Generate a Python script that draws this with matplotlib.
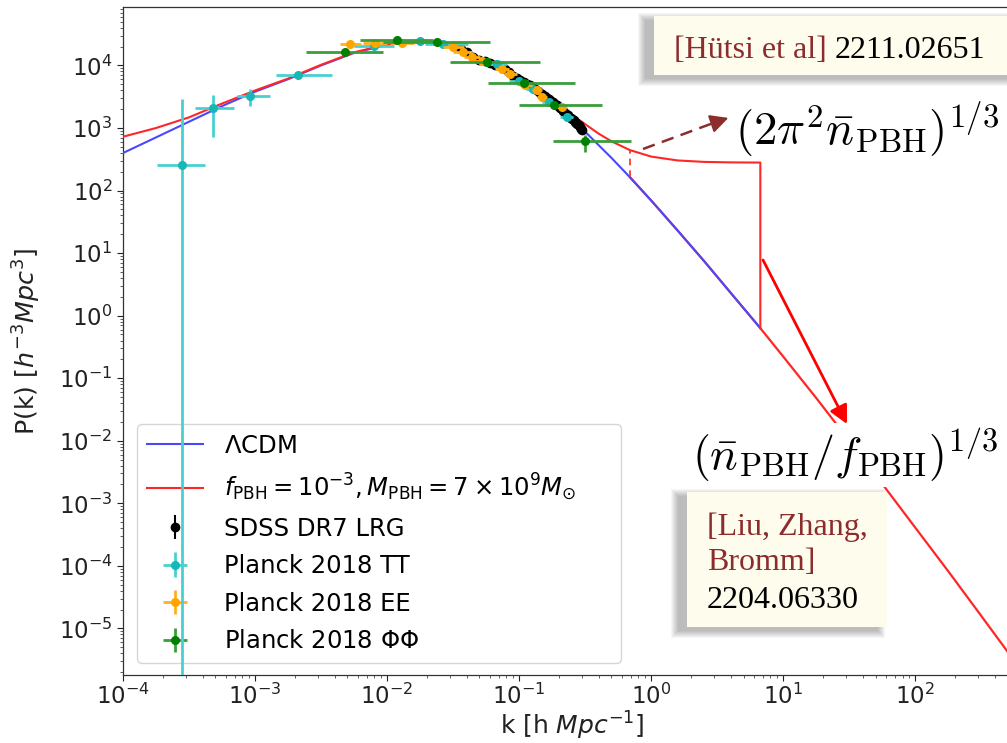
import matplotlib
matplotlib.use("Agg")
import matplotlib.pyplot as plt
from matplotlib.patches import Rectangle, FancyArrowPatch
from matplotlib.lines import Line2D
from matplotlib.ticker import LogLocator, NullFormatter, FixedLocator

# ---------------- curves ----------------
# Linear LCDM matter power spectrum, P(k) in (Mpc/h)^3
k_lcdm = [1e-4, 1.78e-4, 3.16e-4, 5.62e-4, 1e-3, 1.78e-3, 3.16e-3, 5.62e-3,
          0.01, 0.0141, 0.0178, 0.0251, 0.0316, 0.0398, 0.0501, 0.0631,
          0.0794, 0.1, 0.126, 0.158, 0.2, 0.251, 0.316, 0.398, 0.501,
          0.692, 1.0, 1.58, 2.51, 3.98, 6.7]
P_lcdm = [398, 708, 1259, 2239, 3802, 6026, 10000, 15850,
          21380, 23990, 24830, 23440, 20420, 16220, 12590, 10470,
          8130, 6170, 4365, 3020, 2089, 1349, 871, 537, 331,
          162, 69.2, 23.1, 7.48, 2.34, 0.631]

# LCDM + PBH Poisson term, up to the cut-off scale
k_pbh = [1e-4, 1.78e-4, 3.16e-4, 5.62e-4, 1e-3, 1.78e-3, 3.16e-3, 5.62e-3,
         0.01, 0.0141, 0.0178, 0.0251, 0.0316, 0.0398, 0.0501, 0.0631,
         0.0794, 0.1, 0.126, 0.158, 0.2, 0.251, 0.316, 0.398, 0.501,
         0.692, 1.0, 1.58, 2.51, 3.98, 6.7, 6.7]
P_pbh = [725, 1000, 1479, 2455, 3981, 6166, 10230, 16220,
         21630, 24270, 25120, 23710, 20650, 16600, 12880, 10720,
         8320, 6446, 4645, 3300, 2369, 1629, 1151, 817, 611,
         442, 349, 303, 287, 282, 280, 0.631]

# PBH model beyond the separation scale (follows LCDM)
k_tail = [0.692, 1.0, 1.58, 2.51, 3.98, 6.7, 10.0, 17.8, 31.6, 56.2,
          100, 178, 316, 562, 794]
P_tail = [162, 69.2, 23.1, 7.48, 2.34, 0.631, 0.221, 0.0479, 0.0100,
          2.04e-3, 4.07e-4, 8.13e-5, 1.58e-5, 3.02e-6, 1.12e-6]

# mean PBH separation scale
k_sep = 0.692
P_sep_lo, P_sep_hi = 162, 442

# ---------------- data ----------------
k_sdss = [0.032, 0.036, 0.040, 0.045, 0.050, 0.055, 0.060, 0.066, 0.072,
          0.078, 0.084, 0.090, 0.096, 0.102, 0.108, 0.114, 0.120, 0.126,
          0.132, 0.138, 0.144, 0.150, 0.156, 0.162, 0.168, 0.174, 0.180,
          0.186, 0.192, 0.198, 0.204, 0.210, 0.216, 0.222, 0.228, 0.234,
          0.240, 0.246, 0.252, 0.258, 0.264, 0.270, 0.276, 0.282, 0.288,
          0.294, 0.300]
P_sdss = [20400, 18200, 16600, 13800, 12300, 11700, 11000, 10200, 9800,
          8700, 7800, 6900, 6300, 5900, 5400, 5000, 4800, 4550,
          4250, 3950, 3650, 3450, 3250, 3070, 2880, 2700, 2570,
          2450, 2350, 2220, 2100, 1990, 1870, 1760, 1650, 1590,
          1520, 1450, 1390, 1330, 1260, 1200, 1150, 1100, 1030,
          980, 930]
dP_sdss = [1200, 1100, 1000, 850, 750, 700, 650, 600, 580,
           520, 470, 420, 380, 350, 320, 300, 290, 270,
           260, 240, 220, 210, 200, 190, 180, 170, 160,
           150, 145, 140, 130, 125, 120, 115, 110, 105,
           100, 95, 92, 90, 86, 82, 80, 77, 74,
           72, 70]

k_tt = [2.79e-4, 4.83e-4, 9.16e-4, 2.13e-3, 7.94e-3, 0.0178, 0.0267,
        0.0676, 0.0989, 0.128, 0.167, 0.229]
k_tt_lo = [1.82e-4, 3.51e-4, 7.35e-4, 1.45e-3, 5.62e-3, 0.0135, 0.0195,
           0.0562, 0.0841, 0.112, 0.149, 0.204]
k_tt_hi = [4.19e-4, 6.93e-4, 1.30e-3, 3.85e-3, 0.0112, 0.0234, 0.0407,
           0.0813, 0.116, 0.147, 0.187, 0.257]
P_tt = [257, 2061, 3236, 7015, 20400, 24500, 21900, 10500, 5620, 4270,
        2630, 1510]
P_tt_lo = [0, 708, 2239, 6600, 19600, 23500, 21000, 10000, 5350, 4070,
           2500, 1430]
P_tt_hi = [2950, 3390, 4270, 7450, 21200, 25500, 22800, 11000, 5900, 4480,
           2760, 1590]

k_ee = [5.25e-3, 8.13e-3, 0.0129, 0.0318, 0.0374, 0.0437, 0.0521, 0.0741,
        0.0855, 0.111, 0.136, 0.149, 0.210]
k_ee_lo = [4.37e-3, 6.61e-3, 0.0105, 0.0265, 0.0318, 0.0381, 0.0454,
           0.0660, 0.0762, 0.0989, 0.124, 0.136, 0.192]
k_ee_hi = [6.31e-3, 0.0100, 0.0159, 0.0382, 0.0439, 0.0502, 0.0598,
           0.0831, 0.0959, 0.125, 0.149, 0.163, 0.230]
P_ee = [21900, 22900, 22900, 19950, 16600, 13800, 11900, 8910, 7410,
        4900, 4070, 3160, 2140]
P_ee_lo = [21000, 22000, 22000, 19150, 15900, 13250, 11400, 8550, 7110,
           4700, 3900, 3030, 2050]
P_ee_hi = [22800, 23800, 23800, 20750, 17300, 14350, 12400, 9270, 7710,
           5100, 4240, 3290, 2230]

k_pp = [4.81e-3, 0.0118, 0.0238, 0.0569, 0.108, 0.182, 0.316]
k_pp_lo = [2.45e-3, 6.24e-3, 9.33e-3, 0.0300, 0.0585, 0.100, 0.179]
k_pp_hi = [9.33e-3, 0.0224, 0.0603, 0.1445, 0.265, 0.427, 0.708]
P_pp = [16600, 25700, 24000, 11500, 5250, 2340, 617]
P_pp_lo = [16000, 24800, 23100, 11000, 5000, 2220, 417]
P_pp_hi = [17200, 26600, 24900, 12000, 5500, 2460, 776]

x_major = [1e-4, 1e-3, 1e-2, 1e-1, 1e0, 1e1, 1e2]
y_major = [1e-5, 1e-4, 1e-3, 1e-2, 1e-1, 1e0, 1e1, 1e2, 1e3, 1e4]


def asym(vals, lo, hi):
    return [[v - a for v, a in zip(vals, lo)], [b - v for v, b in zip(vals, hi)]]


W, H = 1007, 743
fig = plt.figure(figsize=(W / 100, H / 100), dpi=100)
ax = fig.add_axes([123 / W, 68 / H, 898 / W, 667.7 / H])
ax.set_xscale('log')
ax.set_yscale('log')

red = '#ff2626'
ax.plot(k_tail, P_tail, color=red, lw=1.6, zorder=2)
ax.plot(k_lcdm, P_lcdm, color='#4848ff', lw=1.5, zorder=3,
        label=r'$\Lambda$CDM')
ax.plot(k_pbh, P_pbh, color=red, lw=1.5, zorder=4,
        label=r'$f_{\rm PBH}=10^{-3}, M_{\rm PBH}=7\times10^{9}M_{\odot}$')
ax.vlines(k_sep, P_sep_lo, P_sep_hi, colors=red, linestyles=(0, (4, 3)),
          lw=1.2, zorder=4)

ax.errorbar(k_sdss, P_sdss, yerr=dP_sdss, fmt='o', color='black', ms=6,
            elinewidth=1.5, capsize=0, zorder=5, label='SDSS DR7 LRG')
ax.errorbar(k_tt, P_tt, xerr=asym(k_tt, k_tt_lo, k_tt_hi),
            yerr=asym(P_tt, P_tt_lo, P_tt_hi), fmt='o', color='#17b7b7',
            ecolor='#48d0d0', ms=5.5, elinewidth=2, capsize=0, zorder=6,
            label='Planck 2018 TT')
ax.errorbar(k_ee, P_ee, xerr=asym(k_ee, k_ee_lo, k_ee_hi),
            yerr=asym(P_ee, P_ee_lo, P_ee_hi), fmt='o', color='orange',
            ecolor='#ffb020', ms=5.5, elinewidth=2, capsize=0, zorder=7,
            label='Planck 2018 EE')
ax.errorbar(k_pp, P_pp, xerr=asym(k_pp, k_pp_lo, k_pp_hi),
            yerr=asym(P_pp, P_pp_lo, P_pp_hi), fmt='o', color='green',
            ecolor='#3a9d3a', ms=5.5, elinewidth=2, capsize=0, zorder=8,
            label=r'Planck 2018 $\Phi\Phi$')

ax.set_xlim(1e-4, 631)
ax.set_ylim(1.8e-6, 8.5e4)

ax.xaxis.set_major_locator(FixedLocator(x_major))
ax.yaxis.set_major_locator(FixedLocator(y_major))
for axis in (ax.xaxis, ax.yaxis):
    axis.set_minor_locator(LogLocator(base=10, subs=range(2, 10), numticks=300))
    axis.set_minor_formatter(NullFormatter())
ax.tick_params(which='major', labelsize=16.5, length=4, width=0.8, colors='#222222')
ax.tick_params(axis='x', which='major', pad=2.5)
ax.tick_params(which='minor', length=2, width=0.6, colors='#444444')
for s in ax.spines.values():
    s.set_color('#333333')
    s.set_linewidth(0.9)

xl = ax.set_xlabel(r'k [h $Mpc^{-1}$]', fontsize=17.5, color='#222222')
yl = ax.set_ylabel(r'P(k) $[h^{-3}Mpc^3]$', fontsize=12.5, color='#222222')


def fx(x):
    return x / W


def fy(y):
    return 1 - y / H


renderer = fig.canvas.get_renderer()


def fit_width(t, target, vertical=False):
    # scale the font so the text spans the given number of pixels
    for _ in range(3):
        bb = t.get_window_extent(renderer)
        size = bb.height if vertical else bb.width
        t.set_fontsize(t.get_fontsize() * target / size)


# axis labels: length along the axis, then placement
fit_width(xl, 144)
fit_width(yl, 187, vertical=True)
xl.set_va('bottom')
ax.xaxis.set_label_coords(0.5, (675 - 742.5) / 667.7)
ax.yaxis.set_label_coords(-0.089, 0.5)


def make_legend(spacing):
    lg = ax.legend(loc='lower left',
                   bbox_to_anchor=(14 / 898, 12 / 667.7, 484 / 898, 0.45),
                   mode='expand', borderaxespad=0, fontsize=17.5,
                   handlelength=2.3, labelspacing=spacing, handletextpad=0.9,
                   fancybox=True)
    lg.get_frame().set_edgecolor('#cccccc')
    return lg


spacing = 0.55
leg = make_legend(spacing)
for _ in range(2):
    fig.canvas.draw()
    h = leg.get_window_extent(renderer).height
    spacing += (239 - h) / (5 * 17.5 * 100 / 72)
    leg.remove()
    leg = make_legend(spacing)


# ---------------- annotations (figure pixel coordinates) ----------------
def note_box(x0, y0, x1, y1):
    for i in range(8):
        e = 7 - i
        fig.add_artist(Rectangle((fx(x0 - 9 - e), fy(y1 + 4 + e)),
                                 (x1 - x0 + 2 * e) / W, (y1 - y0 + 2 * e) / H,
                                 transform=fig.transFigure, facecolor='black',
                                 edgecolor='none', alpha=0.035, zorder=10))
    fig.add_artist(Rectangle((fx(x0), fy(y1)), (x1 - x0) / W, (y1 - y0) / H,
                             transform=fig.transFigure, facecolor='#fefcec',
                             edgecolor='none', zorder=11))


ref_red = '#8c2d2d'
serif = 'Liberation Serif'

note_box(654, 16, 1030, 75)
fig.text(fx(674), fy(58), '[Hütsi et al]', family=serif, fontsize=23,
         color=ref_red, va='baseline', zorder=12)
fig.text(fx(835), fy(58), '2211.02651', family=serif, fontsize=23,
         color='black', va='baseline', zorder=12)

note_box(687, 492, 887, 627)
fig.text(fx(707), fy(535), '[Liu, Zhang,', family=serif, fontsize=23,
         color=ref_red, va='baseline', zorder=12)
fig.text(fx(707), fy(570), 'Bromm]', family=serif, fontsize=23,
         color=ref_red, va='baseline', zorder=12)
fig.text(fx(707), fy(608), '2204.06330', family=serif, fontsize=23,
         color='black', va='baseline', zorder=12)

t1 = fig.text(fx(735), fy(99), r'$(2\pi^2\bar{n}_{\rm PBH})^{1/3}$',
              math_fontfamily='cm', fontsize=33, va='top', zorder=12)
t2 = fig.text(fx(692), fy(426), r'$(\bar{n}_{\rm PBH}/f_{\rm PBH})^{1/3}$',
              math_fontfamily='cm', fontsize=33, va='top', zorder=12,
              bbox=dict(facecolor='white', edgecolor='none', pad=2))
fit_width(t1, 264)
fit_width(t2, 306)

# dashed arrow towards the separation-scale label
fig.add_artist(Line2D([fx(643), fx(716)], [fy(149), fy(122)], color=ref_red,
                      lw=1.8, linestyle=(0, (5, 3)), zorder=12))
fig.add_artist(FancyArrowPatch((fx(712), fy(123.5)), (fx(731), fy(117)),
                               transform=fig.transFigure, color=ref_red,
                               arrowstyle='-|>,head_length=0.55,head_width=0.28',
                               mutation_scale=20, lw=1.5, zorder=12))
# solid arrow towards the cut-off label
fig.add_artist(FancyArrowPatch((fx(763), fy(260)), (fx(847), fy(424)),
                               transform=fig.transFigure, color='red',
                               arrowstyle='-|>,head_length=0.55,head_width=0.28',
                               mutation_scale=20, lw=2, zorder=13,
                               shrinkA=0, shrinkB=0))

fig.savefig('out.png', dpi=100)
